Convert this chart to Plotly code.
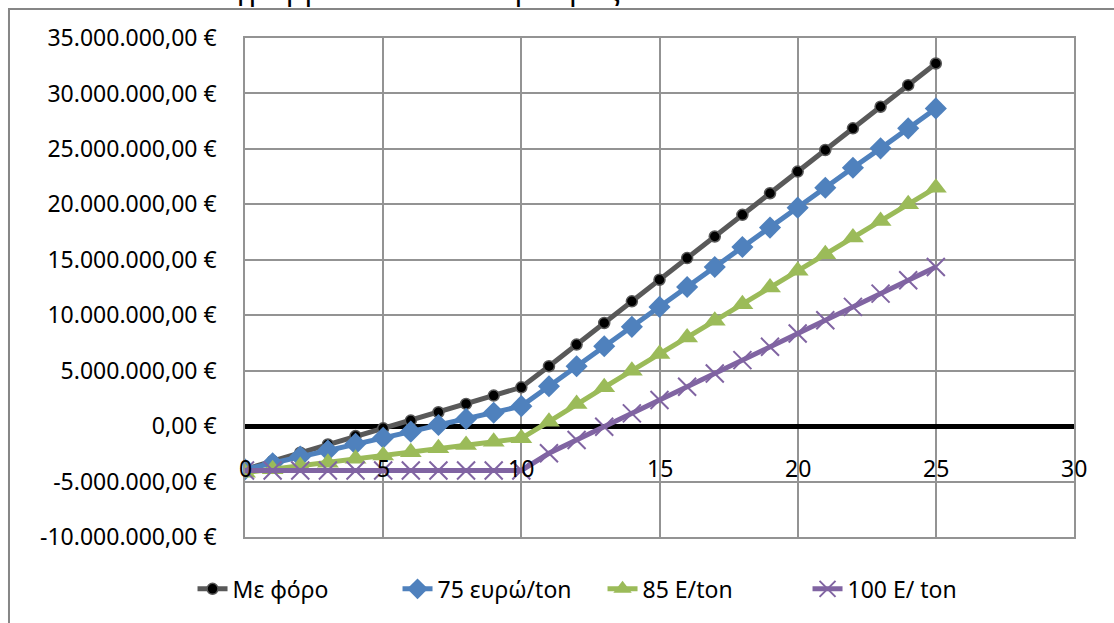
import plotly.graph_objects as go

# Years of operation
years = list(range(0, 26))

# Cumulative cash position (EUR) per scenario
me_foro = [-3.90e6, -3.15e6, -2.40e6, -1.65e6, -0.90e6, -0.20e6, 0.50e6, 1.25e6, 2.00e6, 2.75e6,
           3.50e6, 5.40e6, 7.35e6, 9.30e6, 11.25e6, 13.20e6, 15.15e6, 17.10e6, 19.05e6, 21.00e6,
           22.95e6, 24.90e6, 26.85e6, 28.80e6, 30.75e6, 32.70e6]
eur75 = [-3.90e6, -3.35e6, -2.75e6, -2.20e6, -1.60e6, -1.05e6, -0.50e6, 0.10e6, 0.65e6, 1.20e6,
         1.80e6, 3.60e6, 5.40e6, 7.20e6, 8.95e6, 10.75e6, 12.55e6, 14.35e6, 16.15e6, 17.90e6,
         19.70e6, 21.50e6, 23.30e6, 25.05e6, 26.85e6, 28.65e6]
eur85 = [-4.20e6, -3.90e6, -3.60e6, -3.30e6, -2.95e6, -2.65e6, -2.35e6, -2.00e6, -1.70e6, -1.40e6,
         -1.10e6, 0.40e6, 2.00e6, 3.50e6, 5.00e6, 6.50e6, 8.00e6, 9.50e6, 11.00e6, 12.50e6,
         14.00e6, 15.50e6, 17.00e6, 18.50e6, 20.00e6, 21.50e6]
eur100 = [-4.00e6, -4.00e6, -4.00e6, -4.00e6, -4.00e6, -4.00e6, -4.00e6, -4.00e6, -4.00e6, -4.00e6,
          -4.00e6, -2.45e6, -1.25e6, -0.05e6, 1.15e6, 2.35e6, 3.55e6, 4.75e6, 5.95e6, 7.15e6,
          8.35e6, 9.55e6, 10.75e6, 11.95e6, 13.15e6, 14.35e6]

series_names = ["Με φόρο", "75 ευρώ/ton", "85 E/ton", "100 E/ ton"]

# Axis ticks
y_tickvals = [-10e6, -5e6, 0, 5e6, 10e6, 15e6, 20e6, 25e6, 30e6, 35e6]
y_ticktext = ["-10.000.000,00 €", "-5.000.000,00 €", "0,00 €", "5.000.000,00 €",
              "10.000.000,00 €", "15.000.000,00 €", "20.000.000,00 €", "25.000.000,00 €",
              "30.000.000,00 €", "35.000.000,00 €"]
x_tickvals = [0, 5, 10, 15, 20, 25, 30]
x_ticktext = ["0", "5", "10", "15", "20", "25", "30"]

heading = "και σε ένα διάγραμμα όλα τα σενάρια μαζί"

FONT = "Noto Sans"
FSIZE = 23
GRID = "#939393"

fig = go.Figure()

fig.add_trace(go.Scatter(
    x=years, y=me_foro, name=series_names[0], mode="lines+markers",
    line=dict(color="#595959", width=5),
    marker=dict(symbol="circle", size=11, color="#000000",
                line=dict(color="#595959", width=1.5)),
))
fig.add_trace(go.Scatter(
    x=years, y=eur75, name=series_names[1], mode="lines+markers",
    line=dict(color="#4F81BD", width=5),
    marker=dict(symbol="diamond", size=17, color="#4F81BD"),
))
fig.add_trace(go.Scatter(
    x=years, y=eur85, name=series_names[2], mode="lines+markers",
    line=dict(color="#9BBB59", width=5),
    marker=dict(symbol="triangle-up", size=19, color="#9BBB59"),
))
fig.add_trace(go.Scatter(
    x=years, y=eur100, name=series_names[3], mode="lines+markers",
    line=dict(color="#8064A2", width=5),
    marker=dict(symbol="x-thin", size=18, color="#8064A2",
                line=dict(color="#8064A2", width=2)),
))

# Category labels of the horizontal axis, sitting just above the -5M gridline
for xv, txt in zip(x_tickvals, x_ticktext):
    fig.add_annotation(x=xv, y=-3.78e6, xref="x", yref="y", text=txt,
                       showarrow=False, xanchor="center", yanchor="middle",
                       font=dict(family=FONT, size=FSIZE, color="#000000"))

# Heading line above the chart frame
fig.add_annotation(x=-0.25, y=1.055, xref="paper", yref="paper", text=heading,
                   showarrow=False, xanchor="left", yanchor="bottom",
                   font=dict(family=FONT, size=30, color="#000000"))

# Chart frame (left and top edges)
fig.add_shape(type="path", xref="paper", yref="paper",
              path="M -0.2847,-0.3 L -0.2847,1.0581 L 1.2,1.0581",
              line=dict(color="#868686", width=2))

fig.update_layout(
    width=1114, height=623, autosize=False,
    margin=dict(l=245, r=40, t=38, b=86),
    paper_bgcolor="#ffffff", plot_bgcolor="#ffffff",
    font=dict(family=FONT, size=FSIZE, color="#000000"),
    showlegend=True,
    legend=dict(orientation="h", x=-0.0633, xanchor="left", y=-0.104, yanchor="middle",
                font=dict(family=FONT, size=FSIZE, color="#000000"),
                bgcolor="rgba(0,0,0,0)", itemwidth=30,
                entrywidth=160, entrywidthmode="pixels"),
    xaxis=dict(range=[0, 30], tickvals=x_tickvals, showticklabels=False,
               showgrid=True, gridcolor=GRID, gridwidth=1.5,
               showline=True, linecolor=GRID, linewidth=1.5, mirror=True,
               zeroline=False, ticks=""),
    yaxis=dict(range=[-10e6, 35e6], tickvals=y_tickvals, ticktext=y_ticktext,
               showgrid=True, gridcolor=GRID, gridwidth=1.5,
               showline=True, linecolor=GRID, linewidth=1.5, mirror=True,
               zeroline=True, zerolinecolor="#000000", zerolinewidth=5,
               ticks="", ticklabelstandoff=22,
               tickfont=dict(family=FONT, size=FSIZE, color="#000000")),
)

fig.write_html("out.html")
